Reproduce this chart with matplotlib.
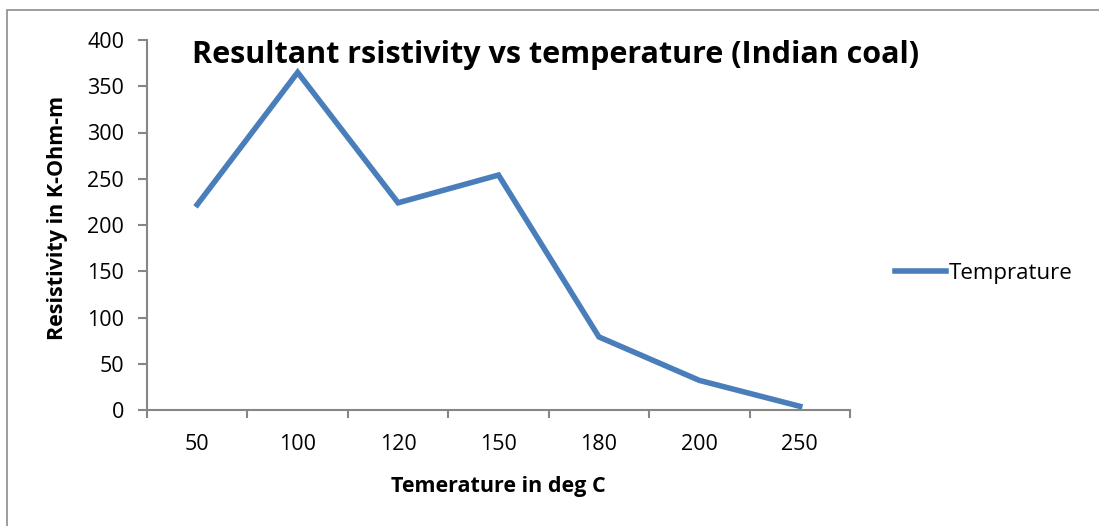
import matplotlib.pyplot as plt
from matplotlib.patches import Rectangle

# データ
temperatures = ["50", "100", "120", "150", "180", "200", "250"]
resistivity = [222, 365, 224, 254, 79, 32, 4]

plt.rcParams["font.family"] = ["Open Sans", "DejaVu Sans"]

W, H = 1099, 526
fig = plt.figure(figsize=(W / 100, H / 100), dpi=100)

# 外枠 (右と下は画像外に切れている)
fig.patches.append(
    Rectangle((7 / W, -0.1), 1.2, 1 - 10 / H + 0.1, transform=fig.transFigure,
              fill=False, edgecolor="#8c8c8c", linewidth=1.2)
)

ax = fig.add_axes([147 / W, (H - 410) / H, 703 / W, 370 / H])
x = list(range(len(temperatures)))
ax.plot(x, resistivity, color="#4a7ebb", linewidth=4, solid_joinstyle="miter",
        label="Temprature")

ax.set_xlim(-0.5, len(temperatures) - 0.5)
ax.set_ylim(0, 400)
ax.set_yticks(range(0, 401, 50))
ax.set_xticks(x)
ax.set_xticklabels(temperatures)
ax.set_xticks([i - 0.5 for i in range(len(temperatures) + 1)], minor=True)

for s in ["top", "right"]:
    ax.spines[s].set_visible(False)
for s in ["left", "bottom"]:
    ax.spines[s].set_color("#868686")
    ax.spines[s].set_linewidth(1.5)

ax.tick_params(axis="y", direction="out", length=6.5, width=1.5, color="#868686",
               labelsize=15.5, pad=10)
ax.tick_params(axis="x", which="major", length=0, labelsize=15.5, pad=17)
ax.tick_params(axis="x", which="minor", direction="out", length=6, width=1.5,
               color="#868686")

ax.set_xlabel("Temerature in deg C", fontsize=15.5, fontweight="bold", va="center")
ax.xaxis.set_label_coords(0.5, -0.208)
ax.set_ylabel("Resistivity in K-Ohm-m", fontsize=15.5, fontweight="bold", va="center")
ax.yaxis.set_label_coords(-0.127, 0.52)

fig.text(556 / W, 1 - 55 / H, "Resultant rsistivity vs temperature (Indian coal)",
         fontsize=22, fontweight="bold", ha="center", va="center")

ax.legend(loc="center left", bbox_to_anchor=(1.035, 0.37), frameon=False,
          fontsize=16, handlelength=2.3, handletextpad=0.15)

fig.savefig("out.png", dpi=100)
